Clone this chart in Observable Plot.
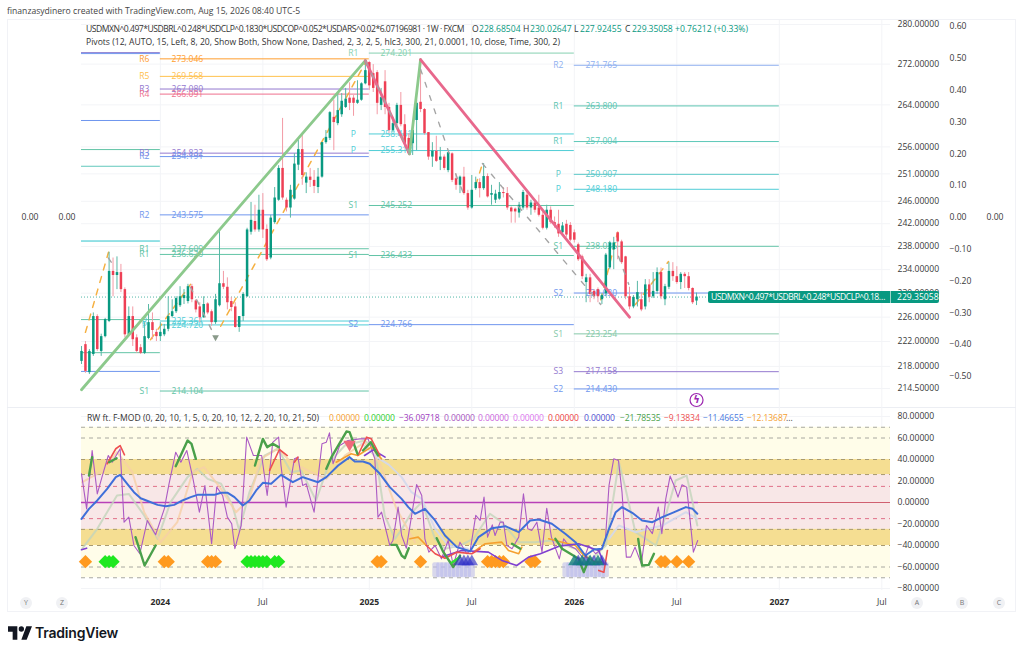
<!DOCTYPE html>
<html><head><meta charset="utf-8">
<script src="https://cdn.jsdelivr.net/npm/d3@7"></script>
<script src="https://cdn.jsdelivr.net/npm/@observablehq/plot@0.6"></script>
<style>
html,body{margin:0;padding:0;background:#fff;}
#page{position:relative;width:1024px;height:655px;overflow:hidden;font-family:"Open Sans",sans-serif;color:#333;}
#page svg.plot,#page svg{position:absolute;left:0;top:0;background:transparent;overflow:visible;}
.t{position:absolute;white-space:nowrap;font-size:8.6px;line-height:12px;}
#frame{position:absolute;left:7px;top:19px;width:1009px;height:593px;border:1px solid #f1f2f6;box-sizing:border-box;}
#div{position:absolute;left:7px;top:407px;width:1009px;height:1px;background:#eceef3;}
.btn{position:absolute;width:12px;height:12px;border-radius:50%;background:#f0f1f4;color:#777;font-size:7px;line-height:12px;text-align:center;}
#tag{position:absolute;left:708px;top:291px;width:231px;height:12px;background:#089981;border-radius:2px;color:#fff;font-size:8.6px;line-height:12px;}
#tag span{position:absolute;top:0;white-space:nowrap;}
#tag i{position:absolute;left:182px;top:0;width:1px;height:12px;background:#fff;opacity:.6;}
</style></head><body><div id="page"></div>
<script>
// ---------- weekly OHLC ----------
const firstWeek = new Date(Date.UTC(2023,7,14));
const opens=[218.8,221.5,217.0,219.9,226.1,220.4,222.8,225.3,233.7,233.0,
233.5,230.6,223.1,226.1,222.6,221.0,220.1,222.5,225.1,223.5,
222.8,223.1,224.0,226.1,226.9,227.9,229.1,228.6,231.1,228.7,
227.7,225.9,228.2,226.9,225.1,227.9,231.6,231.0,228.6,227.7,
224.3,226.1,229.4,240.5,242.4,240.9,244.4,241.0,236.0,242.2,
246.2,252.0,246.2,244.8,246.4,252.6,255.5,249.3,250.4,249.8,
248.5,250.4,256.8,257.6,261.6,260.4,262.1,263.5,265.3,265.3,
264.3,264.9,268.1,272.3,270.1,270.3,263.9,268.5,263.5,259.1,
260.4,263.9,260.2,257.6,256.6,261.0,264.5,263.1,258.7,254.1,
255.2,253.5,254.1,251.6,254.7,250.1,248.9,250.4,247.4,244.8,
248.3,249.4,248.3,250.5,247.1,246.2,246.4,247.6,247.4,244.8,
244.6,243.9,244.8,247.1,244.8,245.7,244.8,243.5,241.2,244.4,
242.2,241.9,240.4,241.9,241.7,240.4,238.3,236.2,231.8,232.6,
230.3,230.6,228.9,229.9,234.3,237.4,240.4,238.8,236.2,229.4,
227.7,228.9,228.9,227.7,231.4,229.4,230.3,233.5,228.9,231.0,
233.7,232.8,231.8,233.2,232.8,230.8,228.685];
const highs=[221.2,222.0,220.7,226.7,226.4,223.2,225.8,237.0,236.0,236.2,
234.9,230.9,227.7,227.7,223.1,221.5,225.1,228.1,226.7,224.0,
225.1,224.8,229.4,228.9,229.4,231.1,230.6,231.5,231.5,228.9,
228.4,229.4,228.4,227.2,229.8,240.9,233.7,232.6,229.3,228.4,
226.1,230.1,241.2,245.8,245.3,247.1,247.4,241.8,243.5,248.5,
252.5,261.4,246.6,248.9,254.7,257.2,258.5,251.2,252.0,251.6,
252.0,256.8,259.1,262.7,264.9,266.2,266.2,267.2,268.3,265.8,
268.7,268.3,272.7,272.5,271.9,270.7,267.2,270.7,264.3,261.6,
264.3,266.4,262.1,258.5,261.0,264.9,272.7,263.3,258.7,256.8,
258.0,255.9,254.5,255.0,254.9,251.0,250.6,252.2,248.0,250.7,
250.4,250.1,252.9,251.0,248.9,248.0,249.4,248.5,248.5,245.0,
244.8,245.8,248.0,247.6,246.2,246.2,247.1,244.1,245.3,245.0,
243.2,244.4,242.2,242.6,242.2,240.9,238.6,236.5,233.2,233.2,
230.6,230.9,229.9,236.8,238.9,239.6,240.5,239.1,236.3,231.0,
229.6,232.0,230.1,232.3,232.3,233.5,234.3,234.3,231.5,235.2,
235.2,234.5,233.5,233.5,233.5,230.9,230.026];
const lows=[218.3,216.9,216.7,219.6,220.4,219.6,222.6,225.1,229.4,230.6,
230.1,222.6,222.8,221.2,220.1,219.9,219.9,222.3,222.3,222.0,
222.0,222.8,223.6,225.9,226.6,227.6,228.1,228.2,228.4,226.7,
225.1,225.8,226.4,224.5,224.8,227.7,230.6,227.2,226.9,224.2,
223.5,225.3,229.3,240.0,240.5,240.5,239.4,235.4,235.7,241.9,
246.0,246.2,244.1,243.0,246.2,251.6,248.9,247.4,248.5,247.4,
247.4,250.2,256.5,257.2,255.3,260.0,261.6,263.3,262.9,261.8,
264.1,264.7,267.9,266.8,266.4,262.1,262.9,262.1,258.5,258.7,
260.0,259.8,256.3,254.4,254.4,255.3,262.5,258.2,253.5,252.2,
253.1,251.6,251.6,251.2,249.4,248.0,247.4,247.1,244.4,244.6,
248.0,246.6,248.0,246.6,245.3,245.6,246.2,246.6,244.4,242.1,
242.1,243.0,244.4,244.4,243.5,243.9,243.2,240.9,240.9,241.9,
241.2,239.6,240.0,239.6,238.8,238.6,235.4,232.3,228.4,228.4,
228.9,228.4,228.1,229.4,234.0,234.0,235.7,234.9,228.9,227.2,
227.4,227.7,226.9,227.2,228.4,229.1,229.8,228.9,227.9,230.6,
232.0,231.5,230.6,230.8,230.4,228.1,227.925];
const closes=[220.4,217.2,220.4,226.1,220.7,222.8,225.6,233.7,233.0,233.5,
230.6,223.1,226.1,222.3,220.4,220.1,222.8,225.1,223.8,222.8,
223.5,224.0,226.1,226.9,229.1,229.4,229.6,231.1,228.9,227.2,
225.9,228.1,226.7,225.1,228.9,231.6,231.0,228.4,227.6,224.3,
226.1,229.8,240.9,242.6,240.9,244.4,240.9,235.7,243.0,246.6,
252.0,246.6,244.8,248.0,252.8,255.5,250.7,250.4,249.8,248.7,
250.4,256.8,257.8,262.5,260.6,262.9,264.7,265.1,264.3,264.3,
264.9,268.1,270.7,267.7,267.2,264.3,265.4,263.5,259.1,260.4,
263.9,260.2,256.6,254.7,259.1,264.3,263.1,258.5,254.1,255.2,
253.3,254.1,252.0,254.9,249.8,248.9,250.4,247.4,244.8,248.0,
249.4,248.3,250.5,246.8,247.4,247.3,247.6,247.4,244.8,244.1,
244.1,245.3,247.6,244.8,245.7,244.4,243.5,241.2,244.4,242.2,
241.7,240.2,241.6,240.0,239.1,239.1,235.7,232.8,232.6,229.8,
229.4,229.4,229.6,236.5,238.6,238.6,238.8,235.2,229.4,227.7,
229.3,230.1,227.2,231.4,229.3,230.3,233.5,229.4,231.1,233.7,
232.8,231.8,233.2,232.8,230.8,228.4,229.351];

// ---------- pivot levels ----------
const pivotFrom =[0,0,0,0,0,0,0,0,0,0,
 20,20,20,20,20,20,20,20,20,20,20,20,
 73,73,73,73,73,73,
 125,125,125,125,125,125,125,125,125,125];
const pivotTo   =[20,20,20,20,20,20,20,20,20,20,
 73,73,73,73,73,73,73,73,73,73,73,73,
 125,125,125,125,125,125,
 177,177,177,177,177,177,177,177,177,177];
const pivotPrice=[274.3,274.1,261.0,255.5,252.4,239.0,238.9,225.6,220.2,217.2,
 273.046,269.568,267.080,266.091,254.832,254.191,243.575,237.609,236.620,225.361,224.720,214.104,
 274.201,258.441,255.318,245.252,236.433,224.766,
 271.765,263.800,257.004,250.907,248.180,238.035,230.030,223.254,217.158,214.430];
const pivotTag  =["","","","","","","","","","",
 "R6","R5","R3","R4","R3","R2","R2","R1","R1","P","P","S1",
 "R1","P","P","S1","S1","S2",
 "R2","R1","R1","P","P","S1","S2","S1","S3","S2"];
const pivotHue  =["#8f7fd0","#6f96ee","#6f96ee","#62c4a6","#62c8bc","#80dbe0","#80dbe0","#62c4a6","#62c4a6","#6f96ee",
 "#ff9d2e","#ffc14d","#9479cf","#ee6f8e","#9479cf","#6f96ee","#6f96ee","#62c4a6","#62c4a6","#4fcdd6","#4fcdd6","#62c4a6",
 "#85d0b0","#4fcdd6","#4fcdd6","#62c4a6","#62c4a6","#6f96ee",
 "#8fb0f0","#5cc4b0","#5cc8b8","#5cc8c8","#4fcdd6","#62c4a6","#6f96ee","#85c8a8","#9479cf","#6f96ee"];

// ---------- trend lines ----------
const trendGreenWeeks=[0,72];      const trendGreenPrices=[214.3,272.7];
const trendRedWeeks=[72,83.2];     const trendRedPrices=[272.7,254.7];
const trendGreen2Weeks=[83.2,86];  const trendGreen2Prices=[254.7,272.9];
const trendPinkWeeks=[86,139];     const trendPinkPrices=[272.9,226.0];
const zigUpWeeks=[1,6.85,null,17.5,27.65,null,35.3,72,null,100,101.7,null,131.7,136,null,140.5,148.9];
const zigUpPrices=[223.5,237.0,null,222.3,231.5,null,224.5,272.3,null,248.9,252.9,null,228.9,240.5,null,228.1,235.4];
const zigDownWeeks=[6.85,7.9,null,27.65,34,null,72,83.2,null,86,93.4,null,94.9,96.9,null,101.7,131.7,null,136.2,138.8];
const zigDownPrices=[236.0,234.9,null,231,222.6,null,272.7,254.7,null,271,254.5,null,251.0,247.4,null,252.9,228.1,null,236.3,231.5];

// ---------- oscillator series ----------
const rsiWeeks=[0,1.3,2.7,4,5.3,6.8,7.8,9.8,10.8,12,13.3,14.8,16.7,18.8,21,22.2,23.9,25.2,26.7,28.2,29.9,31.3,33,34.3,35.8,37,38.1,38.9,40.5,41.9,43.6,45.7,47.1,48.5,50,50.6,51.9,54,54.9,56.1,57,59,61,62.1,62.9,63.8,65.5,67.6,70.6,72.7,74.4,75.2,76.1,78.2,79,80.3,81.2,82.4,85,86.3,87.1,88.1,89.7,91.3,93,94.3,96,97.7,98.6,100,101.1,102.1,103,104.2,104.9,106.2,107,107.9,109.2,110.9,112.1,113.2,114.2,115.5,116.8,118,119.2,121.2,122.3,123.6,125.3,127.4,128.7,130.4,132,132.9,133.8,135,136.2,137.1,138.2,139.3,140.4,142,143.3,144.8,146.3,147.2,148.2,149.3,150.3,151.3,152.3,153.5,154.6,155.2,156.3];
const rsiValues=[26.7,-5.9,48.4,8,25,43.7,37.5,50,-18.3,-13.6,-40,-47.7,-16.7,-30,-5.9,17.4,46.8,37.5,48.4,23.6,-9,15.8,-38.4,14.3,6.5,-13.6,-19.8,-43,-21.4,60.8,43.7,43.7,6.5,56,60.8,34.4,-4.3,40.6,42.2,15.8,17.4,-9,54.6,56.1,64.8,36,53,57.7,59.2,59.2,40.6,-13.6,-9,-40,-35.3,-4.3,-30.7,-42.5,16.7,6.5,-33.8,-46.2,-40,-52.4,-35.3,-58.6,-36.9,-47.7,-44.6,-12,-16.7,5,-32.2,-20.8,-30.7,-18.3,-18.3,-40,-43,-32.2,8,-24.5,-26,-18.3,-46.2,-5.3,-32.2,-52.4,-33.8,-40,-43,-52.4,-40,-47.7,-43,-33.8,15.8,40.6,39,9.6,-50.8,-50.8,-41.5,-57,-21.4,-29,-4.3,-29,3.4,24.5,15.8,5,16.4,14.3,-24.5,-46.2,-35.3];
const blueWeeks=[0,1.9,4,6.5,8.7,9.8,11.6,13.3,15,17.1,19.3,21.4,23.5,25.6,27.7,29.4,33.7,35.4,37.1,38.8,40.9,42.6,44.3,46,48.1,50.6,53.6,56.1,60,62.1,65.1,68,69.3,71.4,73.1,75.7,78.2,81.2,82.9,84.6,87.1,89.7,92.2,95.2,98.6,100.7,104.1,107.5,110.9,113.8,116,119.3,122.7,125.3,127.8,130,132,133.8,135.5,137.1,139.7,142.2,144.8,147.3,149.9,153.3,155,156.2];
const blueValues=[-15.2,-5.9,1.9,12.7,23.6,25.7,17.4,9.6,4,.9,-2.2,-3.4,-2.2,1.9,5,7.1,7.1,9,9,5,-2.8,1.9,11.2,18.3,17.4,25.7,18.9,23.6,18.9,23.6,34.4,42.2,38.1,38.1,36,26.7,14.3,3.4,-4.3,-10.5,-5.9,-16.7,-30.7,-41.5,-45.3,-32.2,-23.9,-22,-27.6,-16.7,-15.8,-19.8,-29.1,-36.9,-49.3,-43.7,-43,-24.5,-9,-4.3,-9.6,-16.7,-18.3,-13.6,-9.6,-4.3,-5.9,-10.5];
const paleGreenWeeks=[.2,4,9,12,15.9,19.3,22.6,26.9,29.4,32,35.4,38.3,40,42.6,46.4,49.8,53.2,55.7,59.5,62.9,66.8,71.8,74.4,76.9,79.5,81.2,83.7,86.3,89.7,92.2,96,99.4,103.6,106.6,110.9,115,119.3,125.3,129.5,133,134.6,136.3,138,140.5,145.7,148.2,150.7,153.5,155,156.2];
const paleGreenValues=[-43,-24.5,6.5,8,-12,-33.8,.3,23.6,31.3,22,17.4,-2.8,-26,9.6,43.7,50,28.2,29.8,1.9,37.5,53,57.7,50,-12,-33.8,-25,-9.6,.3,-33.8,-43,-40,-33.8,-10.5,-18.3,-36.9,-36.9,-35.3,-43,-52.4,-40,-2.8,37.5,12.7,-27.6,-40,-12,20.5,25,.3,-21.4];
const paleOrangeWeeks=[.2,4.8,9,12.9,15.9,20.1,24.3,28.2,31.1,35.4,39.2,42.6,45.5,49.8,53.2,58.3,62.1,66.8,71.8,75.7,79.9,84.6];
const paleOrangeValues=[18.9,28.2,46.8,28.2,-9,-36.9,-18.3,28.2,32.9,12.7,-9,3.4,40.6,50,37.5,28.2,22,43.7,56,36,-5.9,-36.9];
const paleBlueWeeks=[71,75,78,81.2,83.7,86.3,89.7,93,98,null,133.8,136.3,140.5,147.3,153.3,156.2];
const paleBlueValues=[55,42,35,23.6,9.6,3.4,-24.5,-40,-43,null,-33.8,-21.4,-27.6,-21.4,-9,-15.2];
const greenOscWeeks=[1.9,2.7,null,7,8.9,null,13.7,16,18.8,null,23.9,26.9,27.9,29,null,44,46,47.1,48.5,50,null,62.1,63.4,67.2,68,70,null,71.4,73.4,75.2,null,78.6,79.9,81.2,82,83,null,90.1,91.8,94.3,96,null,109.2,111.3,null,120.2,121.9,126.1,127.4,128.7,null,141.2,142.2,143.9,145.2];
const greenOscValues=[25.1,42.2,null,37.5,41.2,null,-32.2,-58.6,-40,null,33.8,57.7,54.6,40.6,null,34.4,59.2,51.5,54.6,51.5,null,31.3,42.2,66,65.4,45.3,null,48.4,56.1,43.7,null,-39.4,-39.4,-49.3,-51.8,-42.5,null,-33.2,-46.2,-60,-49.3,null,-38.4,-43,null,-33.8,-43,-52.4,-64.8,-52.4,null,-33.8,-58.6,-58,-47.7];
const redOscWeeks=[6.5,8.7,9.8,10.9,null,47.7,50.2,52.2,null,54,54.9,null,70.1,72.3,73.5,75.7,null,87.5,89.7,92.2,95.2,99,101.1,null,131.2,132.5,133.4];
const redOscValues=[36,50,53,44.3,null,29.8,49.3,43.7,null,37.5,42.2,null,43.7,60.8,59.2,43.7,null,-40,-47.7,-51.8,-46.2,-47.7,-43,null,-63.2,-64.8,-44.6];
const orangeOscWeeks=[64.6,68.4,70.1,73.5,76.1,null,83.3,85.4,87.5,null,99.4,101.1,102.4,106.6,108.3,110.9,111.7,null,118.5,121.9,125.3,127.4,130.4,132];
const orangeOscValues=[37.5,45.3,43.7,51.5,40.6,null,-33.8,-32.2,-40,null,-46.2,-41.5,-38.4,-36.9,-44.6,-47.7,-41.5,null,-33.8,-36.9,-40,-49.3,-55.5,-55.5];
const violetOscWeeks=[0,1.3,null,71.8,74,77,null,91.3,96.4,103.2,106.6,110.4,113.4,116.4,121.1,126.1,131.2,132.5];
const violetOscValues=[-44,-42.5,null,43.7,49,42.2,null,-50.8,-44.6,-46.2,-53.9,-58.6,-50.8,-47.7,-40.6,-38.4,-44.6,-57];
const limeOscWeeks=[93.9,96];      const limeOscValues=[-56,-50.8];
const orangeMarks=[1,21,22,32,33,34,75,76,86,103,104,105,106,107,114,115,147,148,151,154];
const greenMarks=[6,7,8,42,43,44,45,46,47,49,50];
const blueTriangles=[96,97,98,99,126,128,130,132];
const tealTriangles=[125,127,129,131];
const lavenderPills=[90,91,92,93,94,95,96,97,98,99,123,124,125,126,127,128,129,130,131,132,133];
const diamondLevel=-55, pillTop=-56, pillBottom=-70;
const bandOuter=[-70,70], bandGold=[[26,40],[-40,-25]], bandMid=[-25,26];
const grayDashes=[70,60,-60,-70], brownDashes=[40,26,-25,-40], pinkDashes=[15,-15];

// ---------- axes ----------
const priceTicks=[280,272,264,256,251,246,242,238,234,230,226,222,218,214.5];
const oscTicks=[80,60,40,20,0,-20,-40,-60,-80];
const sideTicks=[0.6,0.5,0.4,0.3,0.2,0.1,0,-0.1,-0.2,-0.3,-0.4,-0.5];
const sideBold=[0.5,0,-0.5];
const yearTicks=[[2024,20],[2025,73],[2026,125],[2027,177]];
const julyTicks=[46,99,151,203];

// ---------- scales ----------
const week=i=>i==null?null:new Date(+firstWeek+i*7*864e5);
const lastWeekShown=205.2;
const xScale={type:"utc",domain:[week(0),week(lastWeekShown)],axis:null};
const font='"Open Sans",sans-serif';
const grid="#f3f4f7";
const idx=d3.range(opens.length);
const up=i=>closes[i]>=opens[i];
const UP="#089981",DOWN="#ee4055";
const minus=s=>s.replace("-","\u2212");

const pivots=pivotPrice.map((p,i)=>({p,from:week(pivotFrom[i]),to:week(pivotTo[i]),tag:pivotTag[i],c:pivotHue[i]}));
const labelled=pivots.filter(d=>d.tag);
const series=(w,v)=>w.map((d,i)=>({x:week(d),y:v[i]}));
const ln=(w,v,o)=>Plot.line(series(w,v),{x:"x",y:"y",...o});

// ---------- price panel ----------
const pricePanel=Plot.plot({
  width:1024,height:408,marginLeft:81,marginRight:134,marginTop:20,marginBottom:0,
  style:{fontFamily:font,fontSize:"8.6px",background:"transparent"},
  x:xScale,
  y:{type:"log",domain:[214.5,280],range:[388,24],axis:null},
  marks:[
    Plot.gridY(priceTicks,{stroke:grid,strokeOpacity:1}),
    Plot.gridX(julyTicks.concat(yearTicks.map(d=>d[1])).map(week),{stroke:grid,strokeOpacity:1}),
    Plot.ruleY(pivots,{x1:"from",x2:"to",y:"p",stroke:"c",strokeWidth:1}),
    Plot.text(labelled,{x:"from",y:"p",text:"tag",fill:"c",dx:-16,fontSize:8.6}),
    Plot.text(labelled,{x:"from",y:"p",text:d=>d.p.toFixed(3),fill:"c",dx:27,fontSize:8.6}),
    Plot.ruleY([closes[closes.length-1]],{x1:week(0),x2:week(lastWeekShown),stroke:UP,strokeDasharray:"1 2",strokeOpacity:.7}),
    ln(zigUpWeeks,zigUpPrices,{stroke:"#f5b041",strokeWidth:1.5,strokeDasharray:"6 7"}),
    Plot.ruleX(idx,{x:i=>week(i),y1:i=>lows[i],y2:i=>highs[i],stroke:i=>up(i)?"#58b8a6":"#f39aa5",strokeWidth:1}),
    Plot.ruleX(idx,{x:i=>week(i),y1:i=>opens[i],y2:i=>closes[i],stroke:i=>up(i)?UP:DOWN,strokeWidth:2.5}),
    ln(trendGreenWeeks,trendGreenPrices,{stroke:"#8cc98c",strokeWidth:2.8}),
    ln(trendRedWeeks,trendRedPrices,{stroke:"#e8688c",strokeWidth:2.8}),
    ln(trendGreen2Weeks,trendGreen2Prices,{stroke:"#8cc98c",strokeWidth:2.8}),
    ln(trendPinkWeeks,trendPinkPrices,{stroke:"#e8688c",strokeWidth:2.8}),
    ln(zigDownWeeks,zigDownPrices,{stroke:"#a4a4a4",strokeWidth:1.4,strokeDasharray:"5 9"}),
    Plot.dot([222.7],{x:()=>week(34),y:d=>d,symbol:"triangle",rotate:180,r:2.5,fill:"#8a9a8a"}),
    Plot.dot([212.7],{x:()=>week(156),y:d=>d,r:6.5,stroke:"#9c27b0",strokeWidth:1.2,fill:"#fff"}),
    Plot.text([212.7],{x:()=>week(156),y:d=>d,text:()=>"\u03DF",fill:"#9c27b0",fontFamily:"DejaVu Sans",fontWeight:700,fontSize:10}),
    Plot.axisY({ticks:priceTicks,anchor:"right",tickSize:0,tickPadding:7,label:null,fill:"#3a3a3a",fontSize:8.6,tickFormat:d3.format(".5f")})
  ]
});

// ---------- second price scale ----------
const sidePanel=Plot.plot({
  width:1024,height:408,marginLeft:0,marginRight:0,marginTop:0,marginBottom:0,
  style:{fontFamily:font,background:"transparent"},
  x:{axis:null},
  y:{domain:[-0.5,0.6],range:[376,26],axis:null},
  marks:[
    Plot.text(sideTicks,{y:d=>d,text:d=>minus(d.toFixed(2)),frameAnchor:"left",dx:949,textAnchor:"start",fill:"#3a3a3a",fontSize:8.6,
      fontWeight:d=>sideBold.includes(d)?700:400}),
    Plot.text([0],{y:d=>d,text:()=>"0.00",frameAnchor:"left",dx:986,textAnchor:"start",fill:"#3a3a3a",fontSize:8.6}),
    Plot.text([0],{y:d=>d,text:()=>"0.00",frameAnchor:"left",dx:21,textAnchor:"start",fill:"#3a3a3a",fontSize:8.6}),
    Plot.text([0],{y:d=>d,text:()=>"0.00",frameAnchor:"left",dx:58,textAnchor:"start",fill:"#3a3a3a",fontSize:8.6})
  ]
});

// ---------- oscillator panel ----------
const markY=()=>diamondLevel;
const oscPanel=Plot.plot({
  width:1024,height:612,marginLeft:81,marginRight:134,marginTop:408,marginBottom:22,
  style:{fontFamily:font,fontSize:"8.6px",background:"transparent"},
  x:xScale,
  y:{domain:[-80,80],range:[588,416],axis:null},
  marks:[
    Plot.gridY(oscTicks,{stroke:grid,strokeOpacity:1}),
    Plot.gridX(julyTicks.concat(yearTicks.map(d=>d[1])).map(week),{stroke:grid,strokeOpacity:1}),
    Plot.rect([bandOuter],{y1:d=>d[0],y2:d=>d[1],fill:"#fffde9"}),
    Plot.rect([bandMid],{y1:d=>d[0],y2:d=>d[1],fill:"#f8e7e7"}),
    Plot.rect(bandGold,{y1:d=>d[0],y2:d=>d[1],fill:"#f5de92"}),
    Plot.ruleY(grayDashes,{stroke:"#a8a8a0",strokeDasharray:"4 4"}),
    Plot.ruleY(brownDashes,{stroke:"#a89a70",strokeDasharray:"4 4"}),
    Plot.ruleY(pinkDashes,{stroke:"#e07088",strokeDasharray:"4 4"}),
    Plot.ruleY([0],{stroke:"#d06070",strokeWidth:1}),
    Plot.ruleY([0],{x1:week(0),x2:week(156.5),stroke:"#b840b8",strokeWidth:1.6}),
    ln(paleGreenWeeks,paleGreenValues,{stroke:"#c3d5bc",strokeWidth:2,strokeOpacity:.8}),
    ln(paleOrangeWeeks,paleOrangeValues,{stroke:"#f6d0a6",strokeWidth:2,strokeOpacity:.8}),
    ln(paleBlueWeeks,paleBlueValues,{stroke:"#d3d8ec",strokeWidth:2,strokeOpacity:.9}),
    Plot.dot(orangeMarks,{x:week,y:markY,symbol:"diamond2",r:6,fill:"#ff9a1f"}),
    Plot.dot(greenMarks,{x:week,y:markY,symbol:"diamond2",r:6,fill:"#1fe81f"}),
    Plot.rect(lavenderPills,{x1:i=>week(i-.9),x2:i=>week(i+.9),y1:()=>pillBottom,y2:()=>pillTop,fill:"#b8b8ec",fillOpacity:.55,rx:2}),
    ln(rsiWeeks,rsiValues,{stroke:"#ab5ac4",strokeWidth:1.1}),
    ln(orangeOscWeeks,orangeOscValues,{stroke:"#f5a030",strokeWidth:1.6}),
    ln(violetOscWeeks,violetOscValues,{stroke:"#8040d0",strokeWidth:1.6}),
    ln(redOscWeeks,redOscValues,{stroke:"#ee5050",strokeWidth:1.6}),
    ln(greenOscWeeks,greenOscValues,{stroke:"#4aa04a",strokeWidth:2.4}),
    ln(limeOscWeeks,limeOscValues,{stroke:"#30e030",strokeWidth:2.4}),
    ln(blueWeeks,blueValues,{stroke:"#3f6fd9",strokeWidth:2}),
    Plot.dot(blueTriangles,{x:week,y:markY,symbol:"triangle",r:4.6,fill:"#3030c8",fillOpacity:.65}),
    Plot.dot(tealTriangles,{x:week,y:markY,symbol:"triangle",r:4.6,fill:"#10807a",fillOpacity:.8}),
    Plot.dot([54],{x:()=>week(68),y:d=>d,symbol:"triangle",rotate:180,r:4.6,fill:"#f06a7a"}),
    Plot.axisY({ticks:oscTicks,anchor:"right",tickSize:0,tickPadding:7,label:null,fill:"#3a3a3a",fontSize:8.6,tickFormat:d=>minus(d3.format(".5f")(d))}),
    Plot.axisX({ticks:julyTicks.map(week),anchor:"bottom",tickSize:0,tickPadding:8,label:null,fill:"#3a3a3a",fontSize:8.6,tickFormat:()=>"Jul"}),
    Plot.axisX({ticks:yearTicks.map(d=>week(d[1])),anchor:"bottom",tickSize:0,tickPadding:8,label:null,fill:"#2a2a2a",fontSize:8.6,fontWeight:700,tickFormat:d=>String(yearTicks.find(y=>+week(y[1])===+d)[0])})
  ]
});

// ---------- page furniture ----------
const page=document.getElementById("page");
const add=(tag,id,cls,txt,style)=>{const e=document.createElement(tag);if(id)e.id=id;if(cls)e.className=cls;if(txt!=null)e.textContent=txt;if(style)e.setAttribute("style",style);page.appendChild(e);return e;};
add("div","frame");add("div","div");
page.append(pricePanel,sidePanel,oscPanel);
const T=(x,y,s,c,extra)=>add("div",null,"t",s,`left:${x}px;top:${y-6}px;color:${c||"#333"};${extra||""}`);
T(7,11,"finanzasydinero created with TradingView.com, Aug 15, 2026 08:40 UTC-5","#444");
T(86,29,"USDMXN^0.497*USDBRL^0.248*USDCLP^0.1830*USDCOP^0.052*USDARS^0.02*6.07196981 \u00b7 1W \u00b7 FXCM",null,"letter-spacing:-.5px");
T(472,29,"O");T(479,29,"228.68504",UP);
T(523,29,"H");T(530,29,"230.02647",UP);
T(574,29,"L");T(580,29,"227.92455",UP);
T(625,29,"C");T(632,29,"229.35058",UP,"letter-spacing:-.1px");
T(675,29,"+0.76212 (+0.33%)",UP);
T(86,42,"Pivots (12, AUTO, 15, Left, 8, 20, Show Both, Show None, Dashed, 2, 3, 2, 5, hlc3, 300, 21, 0.0001, 10, close, Time, 300, 2)");
T(87,418,"RW ft. F-MOD (0, 20, 10, 1, 5, 0, 20, 10, 12, 2, 20, 10, 21, 50)");
const oscLegendX=[329,364,399,444,478,513,548,584,620,664,703,747];
const oscLegendText=["0.00000","0.00000","\u221236.09718","0.00000","0.00000","0.00000","0.00000","0.00000","\u221221.78535","\u22129.13834","\u221211.46655","\u221212.13687"];
const oscLegendHue=["#f5a030","#30d030","#a040c0","#a855c0","#cc66dd","#dd77ee","#ee4444","#5050d0","#4aa04a","#ee5050","#4a78e0","#f5a030"];
oscLegendX.forEach((x,i)=>T(x,418,oscLegendText[i],oscLegendHue[i],"letter-spacing:-.12px"));
T(786,418,"...","#444");
const tagBox=add("div","tag");
tagBox.innerHTML='<span style="left:3px;letter-spacing:-.5px">USDMXN^0.497*USDBRL^0.248*USDCLP^0.18\u2026</span><i></i><span style="left:189px">229.35058</span>';
[["Y",20],["Z",56],["A",911],["B",956],["C",993]].forEach(([s,x])=>add("div",null,"btn",s,`left:${x}px;top:597px`));
const logo=add("div",null,null,null,"position:absolute;left:8px;top:626px;width:24px;height:14px");
logo.innerHTML='<svg width="24" height="14" viewBox="0 0 36 20"><path d="M14 20H7V8H0V0h14zM28 20h-8l7.5-20H36z" fill="#131722"/><circle cx="20" cy="4" r="4" fill="#131722"/></svg>';
add("div",null,null,"TradingView",'position:absolute;left:35px;top:624px;font:600 14px/18px Inter,"Open Sans",sans-serif;color:#131722;letter-spacing:-.2px');
</script></body></html>
